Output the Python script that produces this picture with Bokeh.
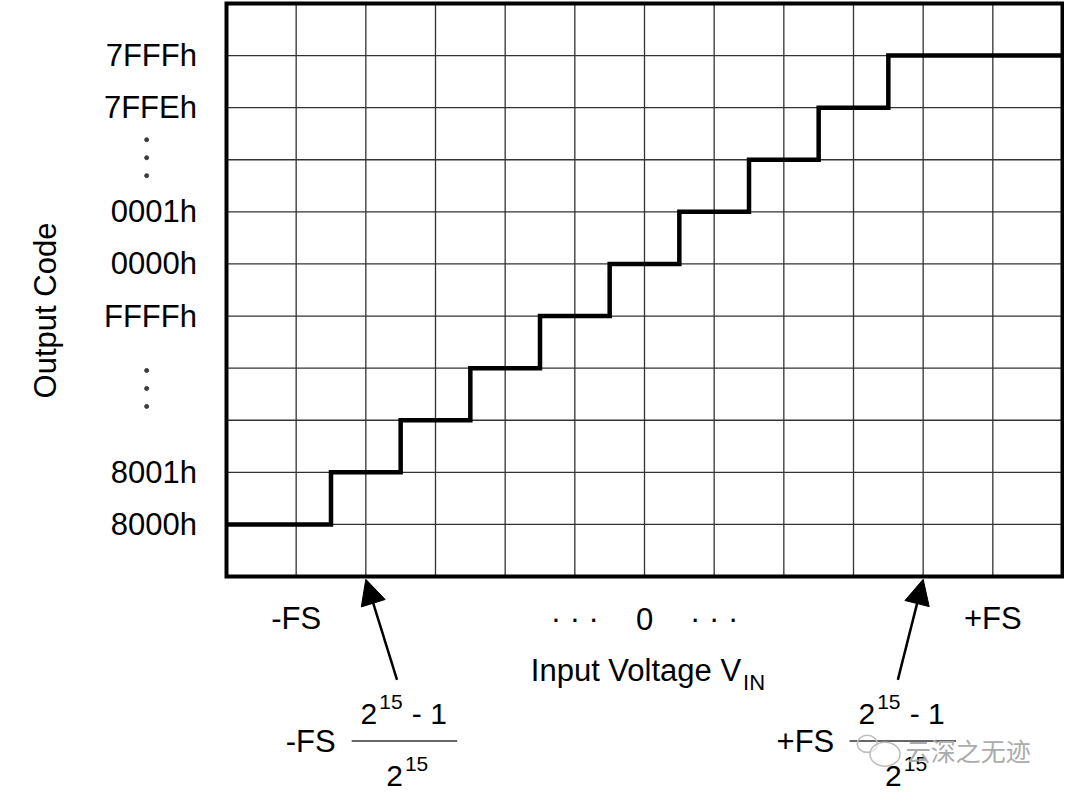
import math
from bokeh.plotting import figure
from bokeh.models import Arrow, NormalHead, Range1d
from bokeh.core.properties import value
from bokeh.embed import file_html
from bokeh.resources import INLINE

# ---------------- data ----------------
code_labels = ["8000h", "8001h", "FFFFh", "0000h", "0001h", "7FFEh", "7FFFh"]
code_levels = [1, 2, 5, 6, 7, 9, 10]

# transfer function (output code level vs input position)
step_x = [0, 1.5, 2.5, 3.5, 4.5, 5.5, 6.5, 7.5, 8.5, 9.5, 12]
step_y = [1, 2, 3, 4, 5, 6, 7, 8, 9, 10, 10]

vin_ticks = [1, 5, 6, 7, 11]
vin_labels = ["-FS", "· · ·", "0", "· · ·", "+FS"]

grid_x = list(range(0, 13))
grid_y = list(range(0, 12))

ellipsis_y = [8.04, 3.61]      # centres of the vertical "..." on the code axis
arrow_tips = [2, 10]           # input positions marked by the arrows

# ---------------- layout ----------------
W, H = 1064, 793
BOX_L, BOX_R, BOX_T, BOX_B = 226, 1062, 3, 576     # canvas pixels of the chart box
COL = (BOX_R - BOX_L) / 12.0
ROW = (BOX_B - BOX_T) / 11.0
REF_COL = 70.67                                    # column width in the reference
FONT = "Liberation Sans"


def RX(rx):
    """reference x pixel -> data x"""
    return (rx - 229) / REF_COL


def RY(ry):
    """reference y pixel -> data y (area below the box slightly compressed)"""
    cy = ry if ry <= BOX_B else BOX_B + (ry - BOX_B) * 0.94
    return (BOX_B - cy) / ROW


p = figure(width=W, height=H,
           x_range=Range1d(-BOX_L / COL, (W - BOX_L) / COL),
           y_range=Range1d((BOX_B - H) / ROW, BOX_B / ROW),
           output_backend="svg", toolbar_location=None,
           x_axis_location=None, y_axis_location=None,
           min_border=0)
p.min_border_left = p.min_border_right = p.min_border_top = p.min_border_bottom = 0
p.outline_line_color = None
p.background_fill_color = "white"
p.border_fill_color = "white"
p.grid.visible = False

# grid
n_x, n_y = len(grid_x), len(grid_y)
p.segment(x0=grid_x, y0=[grid_y[0]] * n_x, x1=grid_x, y1=[grid_y[-1]] * n_x,
          line_color="#333333", line_width=1.3)
p.segment(x0=[grid_x[0]] * n_y, y0=grid_y, x1=[grid_x[-1]] * n_y, y1=grid_y,
          line_color="#333333", line_width=1.3)

# transfer staircase
p.step(step_x, step_y, mode="after", line_width=4.5, line_color="black",
       line_join="miter")

# chart box
p.quad(left=[grid_x[0]], right=[grid_x[-1]], bottom=[grid_y[0]], top=[grid_y[-1]],
       fill_color=None, line_color="black", line_width=4, line_join="miter")


def txt(x, y, text, size, align="left", baseline="middle", color="black",
        font=FONT, angle=0.0):
    if not isinstance(x, list):
        x, y, text = [x], [y], [text]
    p.text(x=x, y=y, text=text, text_font=value(font),
           text_font_size=f"{size}px", text_align=align,
           text_baseline=baseline, text_color=color, angle=angle)


# code-axis labels
txt([RX(199)] * len(code_levels), code_levels, code_labels, 31, align="right")
txt(RX(45), RY(310), "Output Code", 31, align="center", angle=math.pi / 2)

# vertical ellipses on the code axis
dot_x, dot_y = [], []
for c in ellipsis_y:
    for k in (-1, 0, 1):
        dot_x.append(RX(148))
        dot_y.append(c + k * 0.345)
p.scatter(dot_x, dot_y, size=4, marker="circle", color="#3c3c3c")

# input-axis labels
txt(vin_ticks, [RY(621)] * len(vin_ticks), vin_labels, 31, align="center")
txt(RX(751), RY(676), "Input Voltage V", 31, align="right")
txt(RX(753), RY(689), "IN", 22)

# arrows
tails = [(RX(402), RY(686)), (RX(910), RY(686))]
for (xs, ys), xe in zip(tails, arrow_tips):
    p.add_layout(Arrow(end=NormalHead(size=25, fill_color="black",
                                      line_color="black"),
                       x_start=xs, y_start=ys, x_end=xe, y_end=RY(579),
                       line_width=2.5, line_color="black"))


def fraction(sign_px, bar_l, bar_r, num2_px, den2_px, sign):
    txt(RX(sign_px), RY(752), sign, 31)
    p.segment(x0=[RX(bar_l)], y0=[RY(751)], x1=[RX(bar_r)],
              y1=[RY(751)], line_width=1.6, line_color="#333333")
    # numerator 2^15 - 1
    txt(RX(num2_px), RY(722), "2", 30)
    txt(RX(num2_px + 19), RY(709), "15", 21)
    txt(RX(num2_px + 52), RY(722), "- 1", 30)
    # denominator 2^15
    txt(RX(den2_px), RY(788), "2", 30)
    txt(RX(den2_px + 19), RY(775), "15", 21)


fraction(289, 356, 463, 365, 391, "-FS")
fraction(787, 861, 969, 870, 897, "+FS")

# watermark (WeChat-style bubbles + account name)
p.ellipse(x=[RX(879)], y=[RY(754)], width=[20 / COL], height=[17 / ROW],
          fill_color=None, line_color="#bdbdbd", line_width=1.5)
p.ellipse(x=[RX(897)], y=[RY(765)], width=[30 / COL], height=[24 / ROW],
          fill_color="white", fill_alpha=0.6, line_color="#bdbdbd",
          line_width=1.5)
txt(RX(918), RY(761), "云深之无迹", 25, color="#ababab", font="Noto Sans CJK SC")

open("out.html", "w").write(file_html(p, INLINE))
